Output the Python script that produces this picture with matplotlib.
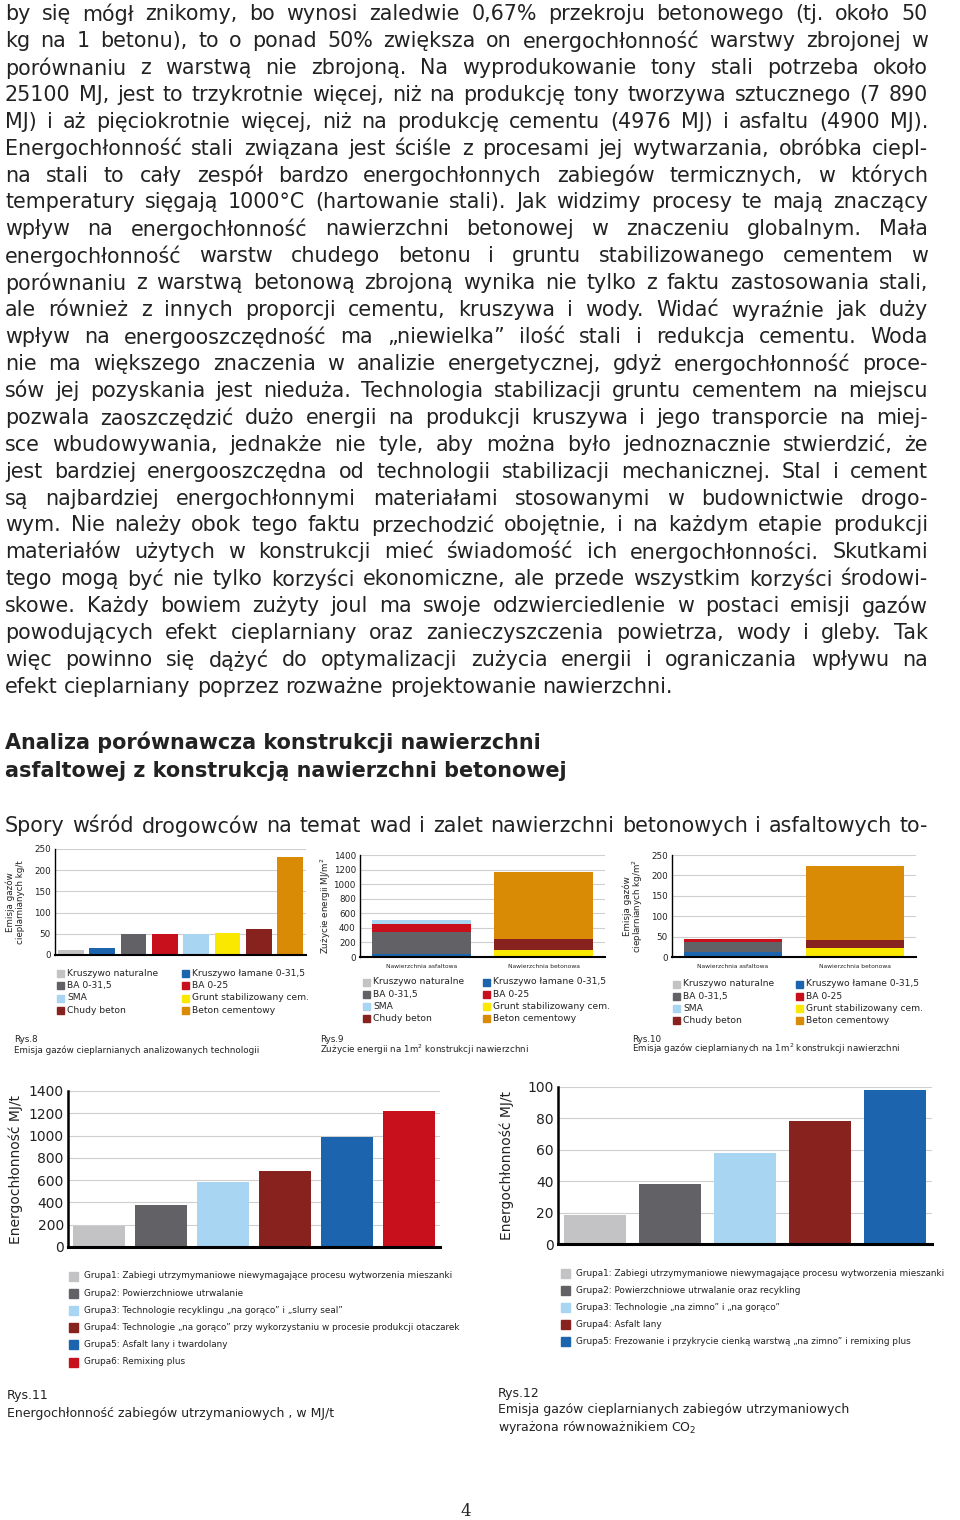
import matplotlib
matplotlib.use("Agg")
import matplotlib.pyplot as plt
from matplotlib.font_manager import FontProperties

W, H = 960, 1520

# ---- body text ----
body_lines = [
    "by się mógł znikomy, bo wynosi zaledwie 0,67% przekroju betonowego (tj. około 50",
    "kg na 1 betonu), to o ponad 50% zwiększa on energochłonność warstwy zbrojonej w",
    "porównaniu z warstwą nie zbrojoną. Na wyprodukowanie tony stali potrzeba około",
    "25100 MJ, jest to trzykrotnie więcej, niż na produkcję tony tworzywa sztucznego (7 890",
    "MJ) i aż pięciokrotnie więcej, niż na produkcję cementu (4976 MJ) i asfaltu (4900 MJ).",
    "Energochłonność stali związana jest ściśle z procesami jej wytwarzania, obróbka ciepl-",
    "na stali to cały zespół bardzo energochłonnych zabiegów termicznych, w których",
    "temperatury sięgają 1000°C (hartowanie stali). Jak widzimy procesy te mają znaczący",
    "wpływ na energochłonność nawierzchni betonowej w znaczeniu globalnym. Mała",
    "energochłonność warstw chudego betonu i gruntu stabilizowanego cementem w",
    "porównaniu z warstwą betonową zbrojoną wynika nie tylko z faktu zastosowania stali,",
    "ale również z innych proporcji cementu, kruszywa i wody. Widać wyraźnie jak duży",
    "wpływ na energooszczędność ma „niewielka” ilość stali i redukcja cementu. Woda",
    "nie ma większego znaczenia w analizie energetycznej, gdyż energochłonność proce-",
    "sów jej pozyskania jest nieduża. Technologia stabilizacji gruntu cementem na miejscu",
    "pozwala zaoszczędzić dużo energii na produkcji kruszywa i jego transporcie na miej-",
    "sce wbudowywania, jednakże nie tyle, aby można było jednoznacznie stwierdzić, że",
    "jest bardziej energooszczędna od technologii stabilizacji mechanicznej. Stal i cement",
    "są najbardziej energochłonnymi materiałami stosowanymi w budownictwie drogo-",
    "wym. Nie należy obok tego faktu przechodzić obojętnie, i na każdym etapie produkcji",
    "materiałów użytych w konstrukcji mieć świadomość ich energochłonności. Skutkami",
    "tego mogą być nie tylko korzyści ekonomiczne, ale przede wszystkim korzyści środowi-",
    "skowe. Każdy bowiem zużyty joul ma swoje odzwierciedlenie w postaci emisji gazów",
    "powodujących efekt cieplarniany oraz zanieczyszczenia powietrza, wody i gleby. Tak",
    "więc powinno się dążyć do optymalizacji zużycia energii i ograniczania wpływu na",
    "efekt cieplarniany poprzez rozważne projektowanie nawierzchni.",
]
heading_lines = ["Analiza porównawcza konstrukcji nawierzchni",
                 "asfaltowej z konstrukcją nawierzchni betonowej"]
intro_line = "Spory wśród drogowców na temat wad i zalet nawierzchni betonowych i asfaltowych to-"

# ---- Rys.8: emisja gazów (kg/t) ----
materials = ["Kruszywo naturalne", "Kruszywo łamane 0-31,5", "BA 0-31,5", "BA 0-25",
             "SMA", "Grunt stabilizowany cem.", "Chudy beton", "Beton cementowy"]
mat_colors = ["#c3c3c5", "#1c64ad", "#626266", "#c7101c",
              "#a8d5f2", "#fbe800", "#88221e", "#d98b05"]
emission_kg_t = [12, 16, 49, 49, 50, 51, 61, 231]

# ---- Rys.9 / Rys.10: stacked per 1 m2 ----
surfaces = ["Nawierzchnia asfaltowa", "Nawierzchnia betonowa"]
energy_asfalt = [0, 40, 310, 105, 50, 0, 0, 0]
energy_beton = [0, 0, 0, 0, 0, 100, 150, 915]
emis_asfalt = [0, 12, 24, 7, 1, 0, 0, 0]
emis_beton = [0, 0, 0, 0, 0, 22, 19, 181]

# ---- Rys.11 ----
groups11 = ["Grupa1: Zabiegi utrzymymaniowe niewymagające procesu wytworzenia mieszanki",
            "Grupa2: Powierzchniowe utrwalanie",
            "Grupa3: Technologie recyklingu „na gorąco” i „slurry seal”",
            "Grupa4: Technologie „na gorąco” przy wykorzystaniu w procesie produkcji otaczarek",
            "Grupa5: Asfalt lany i twardolany",
            "Grupa6: Remixing plus"]
energy11 = [190, 380, 580, 682, 984, 1222]
colors11 = ["#c3c3c5", "#626266", "#a8d5f2", "#88221e", "#1c64ad", "#c7101c"]

# ---- Rys.12 ----
groups12 = ["Grupa1: Zabiegi utrzymymaniowe niewymagające procesu wytworzenia mieszanki",
            "Grupa2: Powierzchniowe utrwalanie oraz recykling",
            "Grupa3: Technologie „na zimno” i „na gorąco”",
            "Grupa4: Asfalt lany",
            "Grupa5: Frezowanie i przykrycie cienką warstwą „na zimno” i remixing plus"]
emis12 = [18.7, 38.2, 58.2, 78.1, 98.1]
colors12 = ["#c3c3c5", "#626266", "#a8d5f2", "#88221e", "#1c64ad"]

TXT = "#222222"
fig = plt.figure(figsize=(W / 100, H / 100), dpi=100)
renderer = fig.canvas.get_renderer()


def fx(x):
    return x / W


def fy(y):
    return 1 - y / H


def tw(s, fp):
    return renderer.get_text_width_height_descent(s, fp, ismath=False)[0]


def fit_size(lines, width, weight="normal", start=18):
    fp = FontProperties(family="DejaVu Sans", size=start, weight=weight)
    widest = max(tw(l, fp) for l in lines)
    return start * width / widest


def justified(lines, x0, x1, y0, dy, size, weight="normal", last_left=True):
    fp = FontProperties(family="DejaVu Sans", size=size, weight=weight)
    space = tw("a a", fp) - tw("aa", fp)
    for i, line in enumerate(lines):
        y = y0 + i * dy
        words = line.split(" ")
        widths = [tw(w, fp) for w in words]
        if last_left and i == len(lines) - 1 or len(words) == 1:
            gap = space
        else:
            gap = (x1 - x0 - sum(widths)) / (len(words) - 1)
        x = x0
        for w, wd in zip(words, widths):
            fig.text(fx(x), fy(y), w, fontproperties=fp, color=TXT, va="center", ha="left")
            x += wd + gap


# body paragraph
body_size = fit_size(body_lines, 915) * 0.99
justified(body_lines, 5, 928, 14, 26.92, body_size)

# heading
head_size = fit_size(heading_lines, 563, weight="bold")
for i, l in enumerate(heading_lines):
    fig.text(fx(5), fy(742 + 29 * i), l, fontsize=head_size, fontweight="bold",
             color=TXT, va="center", ha="left")

justified([intro_line], 5, 928, 826, 27, body_size, last_left=False)


def ax_px(l, t, r, b):
    return fig.add_axes([fx(l), fy(b), fx(r - l), (b - t) / H])


def style_ax(ax, ymax, step, tick_fs, lw_bottom=1.5, lw_left=1.0):
    ax.set_ylim(0, ymax)
    ax.set_yticks(range(0, ymax + 1, step))
    ax.tick_params(axis="y", length=0, labelsize=tick_fs, colors=TXT, pad=3)
    ax.tick_params(axis="x", length=0)
    ax.grid(axis="y", color="#cfcfcf", linewidth=0.8)
    ax.set_axisbelow(True)
    for s in ["top", "right"]:
        ax.spines[s].set_visible(False)
    ax.spines["bottom"].set_linewidth(lw_bottom)
    ax.spines["left"].set_linewidth(lw_left)


def mat_legend(x_left, x_right, y_top, dy):
    for i, (name, c) in enumerate(zip(materials, mat_colors)):
        col, row = i % 2, i // 2
        x = x_left if col == 0 else x_right
        y = y_top + row * dy
        fig.patches.append(plt.Rectangle((fx(x), fy(y) - 3.5 / H), 7 / W, 7 / H,
                                         color=c, transform=fig.transFigure))
        fig.text(fx(x + 10), fy(y), name, fontsize=6.6, color=TXT, va="center", ha="left")


# Rys.8
ax8 = ax_px(55, 849, 306, 955)
ax8.bar(range(len(materials)), emission_kg_t, width=0.82, color=mat_colors)
ax8.set_xlim(-0.5, len(materials) - 0.5)
ax8.set_xticks([])
style_ax(ax8, 250, 50, 6.3)
fig.text(fx(10), fy(902), "Emisja gazów", rotation=90, fontsize=6.3, color=TXT, va="center", ha="center")
fig.text(fx(21), fy(902), "cieplarnianych kg/t", rotation=90, fontsize=6.3, color=TXT, va="center", ha="center")
mat_legend(57, 182, 973, 12.5)
fig.text(fx(14), fy(1039), "Rys.8", fontsize=6.3, color=TXT, va="center")
fig.text(fx(14), fy(1050), "Emisja gazów cieplarnianych analizowanych technologii", fontsize=6.3, color=TXT, va="center")


def stacked(ax, asf, bet):
    bottoms = [0, 0]
    for i, c in enumerate(mat_colors):
        vals = [asf[i], bet[i]]
        ax.bar([0, 1], vals, width=0.81, bottom=bottoms, color=c)
        bottoms = [bottoms[0] + vals[0], bottoms[1] + vals[1]]
    ax.set_xlim(-0.5, 1.5)
    ax.set_xticks([0, 1])
    ax.set_xticklabels(surfaces, fontsize=4.3, color=TXT)
    ax.tick_params(axis="x", pad=5)


# Rys.9
ax9 = ax_px(360, 855, 605, 957)
stacked(ax9, energy_asfalt, energy_beton)
style_ax(ax9, 1400, 200, 6.3)
fig.text(fx(326), fy(906), "Zużycie energii MJ/m$^2$", rotation=90, fontsize=6.3, color=TXT, va="center", ha="center")
mat_legend(363, 483, 982, 12.2)
fig.text(fx(320), fy(1039), "Rys.9", fontsize=6.3, color=TXT, va="center")
fig.text(fx(320), fy(1050), "Zużycie energii na 1m$^2$ konstrukcji nawierzchni", fontsize=6.3, color=TXT, va="center")

# Rys.10
ax10 = ax_px(672, 855, 916, 957)
stacked(ax10, emis_asfalt, emis_beton)
style_ax(ax10, 250, 50, 6.3)
fig.text(fx(627), fy(906), "Emisja gazów", rotation=90, fontsize=6.3, color=TXT, va="center", ha="center")
fig.text(fx(638), fy(906), "cieplarnianych kg/m$^2$", rotation=90, fontsize=6.3, color=TXT, va="center", ha="center")
mat_legend(673, 796, 984, 12.2)
fig.text(fx(632), fy(1039), "Rys.10", fontsize=6.3, color=TXT, va="center")
fig.text(fx(632), fy(1049), "Emisja gazów cieplarnianych na 1m$^2$ konstrukcji nawierzchni", fontsize=6.3, color=TXT, va="center")


def group_legend(names, cols, x, y_top, dy, fs):
    for i, (name, c) in enumerate(zip(names, cols)):
        y = y_top + i * dy
        fig.patches.append(plt.Rectangle((fx(x), fy(y) - 4.5 / H), 9 / W, 9 / H,
                                         color=c, transform=fig.transFigure))
        fig.text(fx(x + 15), fy(y), name, fontsize=fs, color=TXT, va="center", ha="left")


# Rys.11
ax11 = ax_px(68, 1091, 440, 1247)
ax11.bar(range(len(energy11)), energy11, width=0.83, color=colors11)
ax11.set_xlim(-0.5, len(energy11) - 0.5)
ax11.set_xticks([])
style_ax(ax11, 1400, 200, 10, lw_bottom=2.2, lw_left=1.8)
ax11.set_ylabel("Energochłonność MJ/t", fontsize=10, color=TXT, labelpad=4)
group_legend(groups11, colors11, 69, 1276, 17.2, 6.4)
fig.text(fx(7), fy(1396), "Rys.11", fontsize=9, color=TXT, va="center")
fig.text(fx(7), fy(1413), "Energochłonność zabiegów utrzymaniowych , w MJ/t", fontsize=9, color=TXT, va="center")

# Rys.12
ax12 = ax_px(558, 1087, 932, 1244)
ax12.bar(range(len(emis12)), emis12, width=0.83, color=colors12)
ax12.set_xlim(-0.5, len(emis12) - 0.5)
ax12.set_xticks([])
style_ax(ax12, 100, 20, 10, lw_bottom=2.2, lw_left=1.8)
ax12.set_ylabel("Energochłonność MJ/t", fontsize=10, color=TXT, labelpad=10)
group_legend(groups12, colors12, 561, 1273, 17.2, 6.4)
fig.text(fx(498), fy(1394), "Rys.12", fontsize=9, color=TXT, va="center")
fig.text(fx(498), fy(1410), "Emisja gazów cieplarnianych zabiegów utrzymaniowych", fontsize=9, color=TXT, va="center")
fig.text(fx(498), fy(1427), "wyrażona równoważnikiem CO$_2$", fontsize=9, color=TXT, va="center")

# page number
fig.text(fx(466), fy(1511), "4", fontsize=12, family="DejaVu Serif", color=TXT, va="center", ha="center")

fig.savefig("out.png", dpi=100)
